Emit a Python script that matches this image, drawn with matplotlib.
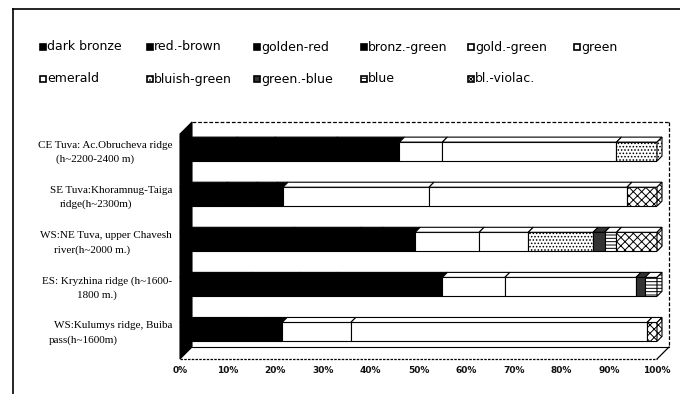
import matplotlib
matplotlib.use("Agg")
import matplotlib.pyplot as plt
from matplotlib.patches import Rectangle, Polygon
from matplotlib.lines import Line2D

# ---------------- data ----------------
row_line1 = ["CE Tuva: Ac.Obrucheva ridge", "SE Tuva:Khoramnug-Taiga",
             "WS:NE Tuva, upper Chavesh", "ES: Kryzhina ridge (h~1600-",
             "WS:Kulumys ridge, Buiba"]
row_line2 = ["(h~2200-2400 m)", "ridge(h~2300m)", "river(h~2000 m.)",
             "1800 m.)", "pass(h~1600m)"]

series_names = ["dark bronze", "red.-brown", "golden-red", "bronz.-green",
                "gold.-green", "green", "emerald", "bluish-green",
                "green.-blue", "blue", "bl.-violac."]

dark_bronze  = [11.0, 9.0, 23.0, 14.0, 12.0]
red_brown    = [8.0, 6.3, 14.0, 10.0, 5.0]
golden_red   = [13.0, 4.2, 4.5, 8.0, 2.4]
bronz_green  = [14.0, 2.1, 7.8, 23.0, 2.0]
gold_green   = [9.0, 30.6, 13.4, 13.1, 14.4]
green        = [36.5, 41.5, 10.3, 27.5, 62.1]
emerald      = [0.0, 0.0, 0.0, 0.0, 0.0]
bluish_green = [8.5, 0.0, 13.6, 0.0, 0.0]
green_blue   = [0.0, 0.0, 2.4, 1.9, 0.0]
blue         = [0.0, 0.0, 2.5, 2.5, 0.0]
bl_violac    = [0.0, 6.3, 8.5, 0.0, 2.1]

series_values = [dark_bronze, red_brown, golden_red, bronz_green, gold_green,
                 green, emerald, bluish_green, green_blue, blue, bl_violac]

x_ticks = [0, 10, 20, 30, 40, 50, 60, 70, 80, 90, 100]
x_tick_labels = ["0%", "10%", "20%", "30%", "40%", "50%", "60%", "70%",
                 "80%", "90%", "100%"]

# ---------------- styles ----------------
styles = [
    dict(fc="black", hatch=None),      # dark bronze
    dict(fc="black", hatch=None),      # red-brown
    dict(fc="black", hatch=None),      # golden-red
    dict(fc="black", hatch=None),      # bronz-green
    dict(fc="white", hatch=None),      # gold-green
    dict(fc="white", hatch=None),      # green
    dict(fc="white", hatch=None),      # emerald
    dict(fc="white", hatch="....."),   # bluish-green
    dict(fc="#333333", hatch=None),    # green-blue
    dict(fc="white", hatch="-----"),   # blue
    dict(fc="white", hatch="xxxx"),    # bl-violac
]
plt.rcParams["hatch.linewidth"] = 0.7

W, H = 680, 394
fig = plt.figure(figsize=(W / 100, H / 100), dpi=100)
fig.patch.set_facecolor("white")

def fx(px):
    return px / W

def fy(py):
    return 1 - py / H

# front plane of the 3D plot
L, R, T, B = 180, 657, 134, 359
ax = fig.add_axes([fx(L), fy(B), (R - L) / W, (B - T) / H])
ax.set_xlim(0, 100)
ax.set_ylim(4.6, -0.39)
for s in ax.spines.values():
    s.set_visible(False)
ax.set_yticks([])
ax.set_xticks(x_ticks)
ax.set_xticklabels(x_tick_labels, fontsize=6.5, fontweight="bold",
                   family="DejaVu Sans", color="#111111")
ax.tick_params(axis="x", length=0, pad=5)
ax.patch.set_alpha(0)

inv = fig.transFigure.inverted()

def d2f(x, y, ox=0.0, oy=0.0):
    px, py = ax.transData.transform((x, y))
    return tuple(inv.transform((px + ox, py + oy)))

def poly(points, **kw):
    p = Polygon(points, closed=True, transform=fig.transFigure, clip_on=False, **kw)
    ax.add_patch(p)
    return p

D = 12  # wall depth in pixels
ytop, ybot = -0.39, 4.6
# back wall
poly([d2f(0, ybot, D, D), d2f(100, ybot, D, D), d2f(100, ytop, D, D), d2f(0, ytop, D, D)],
     fc="white", ec="none", zorder=0)
# floor
poly([d2f(0, ybot), d2f(100, ybot), d2f(100, ybot, D, D), d2f(0, ybot, D, D)],
     fc="white", ec="none", zorder=0)
# left wall
poly([d2f(0, ytop), d2f(0, ybot), d2f(0, ybot, D, D), d2f(0, ytop, D, D)],
     fc="black", ec="black", lw=0.8, zorder=1)

def fline(p1, p2, **kw):
    ln = Line2D([p1[0], p2[0]], [p1[1], p2[1]], transform=fig.transFigure, **kw)
    ln.set_clip_on(False)
    ax.add_line(ln)

# wall edges
fline(d2f(0, ytop, D, D), d2f(100, ytop, D, D), color="black", lw=0.9, ls=(0, (3, 1.5)), zorder=1)
fline(d2f(100, ytop, D, D), d2f(100, ybot, D, D), color="black", lw=0.9, ls=(0, (3, 1.5)), zorder=1)
fline(d2f(0, ybot, D, D), d2f(100, ybot, D, D), color="black", lw=0.8, zorder=1)
fline(d2f(0, ybot), d2f(100, ybot), color="black", lw=0.9, ls=(0, (2, 1)), zorder=1)
fline(d2f(100, ybot), d2f(100, ybot, D, D), color="black", lw=0.9, zorder=1)

# bars
bh = 0.42
dd = 5  # bar depth in pixels
for i in range(len(row_line1)):
    left = 0.0
    segs = []
    for k, vals in enumerate(series_values):
        w = vals[i]
        if w <= 0:
            continue
        st = styles[k]
        ax.barh(i, w, left=left, height=bh, color=st["fc"], edgecolor="black",
                linewidth=0.8, hatch=st["hatch"], zorder=3)
        segs.append((left, w, k))
        left += w
    ytop_bar = i - bh / 2
    ybot_bar = i + bh / 2
    for (lft, w, k) in segs:
        st = styles[k]
        poly([d2f(lft, ytop_bar), d2f(lft + w, ytop_bar),
              d2f(lft + w, ytop_bar, dd, dd), d2f(lft, ytop_bar, dd, dd)],
             fc=st["fc"], ec="black", lw=0.8, zorder=4)
    lft, w, k = segs[-1]
    st = styles[k]
    poly([d2f(lft + w, ytop_bar), d2f(lft + w, ybot_bar),
          d2f(lft + w, ybot_bar, dd, dd), d2f(lft + w, ytop_bar, dd, dd)],
         fc=st["fc"], ec="black", lw=0.8, hatch=st["hatch"], zorder=4)

# category labels (two lines each)
line2_x = [95, 96, 92, 97, 83]
for i in range(len(row_line1)):
    _, py = ax.transData.transform((0, i))
    yc = py / H
    fig.text(fx(172), yc + 6 / H, row_line1[i], ha="right", va="center",
             fontsize=8, family="Liberation Serif", color="black")
    fig.text(fx(line2_x[i]), yc - 8 / H, row_line2[i], ha="center", va="center",
             fontsize=8, family="Liberation Serif", color="black")

# legend
leg_x = [43, 150, 257, 364, 471, 577]
leg_y = [47, 79]
for k, name in enumerate(series_names):
    r, c = divmod(k, 6)
    cx, cy = leg_x[c], leg_y[r]
    st = styles[k]
    sq = Rectangle((fx(cx - 3), fy(cy + 3)), 6 / W, 6 / H, transform=fig.transFigure,
                   fc=st["fc"], ec="black", lw=1.2, hatch=st["hatch"])
    fig.add_artist(sq)
    fig.text(fx(cx + 4), fy(cy), name, ha="left", va="center", fontsize=9,
             family="DejaVu Sans", color="black")

# outer frame
fig.add_artist(Line2D([fx(13), fx(680)], [fy(9), fy(9)], transform=fig.transFigure,
                      color="black", lw=1.2))
fig.add_artist(Line2D([fx(13), fx(13)], [fy(9), fy(394)], transform=fig.transFigure,
                      color="black", lw=1.2))

fig.savefig("out.png", dpi=100)
